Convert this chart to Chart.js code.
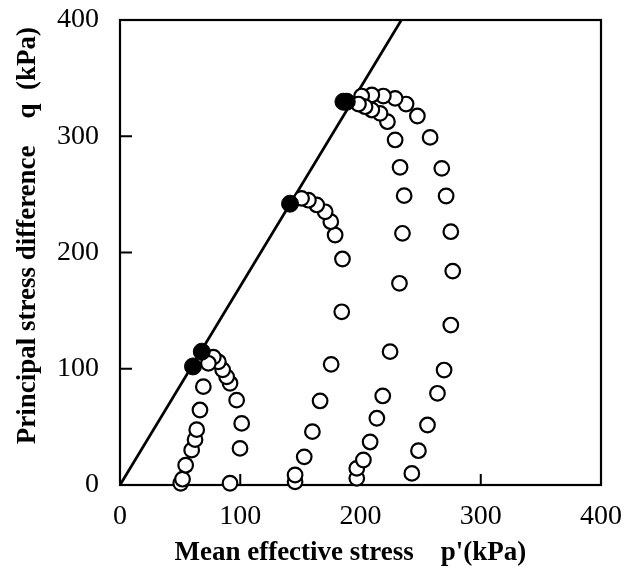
<!DOCTYPE html>
<html><head><meta charset="utf-8">
<script src="https://cdn.jsdelivr.net/npm/chart.js@4/dist/chart.umd.min.js"></script>
<style>html,body{margin:0;padding:0;background:#fff;}canvas{display:block;}</style>
</head><body>
<canvas id="c" width="636" height="575"></canvas>
<script>
// Tick values
const xTickValues = [0, 100, 200, 300, 400];
const yTickValues = [0, 100, 200, 300, 400];
const innerTickValues = [100, 200, 300];

// Critical state / failure line (p', q)
const lineP = [0, 234];
const lineQ = [0, 400];

// Stress path A1 (p'0 ≈ 50 kPa)
const pathA1P = [50.5, 52, 54.6, 59.6, 62.4, 63.8, 66.5, 69.3, 73.5];
const pathA1Q = [1.5, 5, 17, 30, 39, 47.6, 64.5, 84.6, 104.7];
// Stress path A2 (p'0 ≈ 90 kPa)
const pathA2P = [91.5, 99.8, 101.2, 97, 91.5, 88.7, 85.4, 81.8, 77.6];
const pathA2Q = [1.5, 31.5, 53, 73, 87.5, 93, 99, 106, 110];
// Stress path B (p'0 ≈ 145 kPa)
const pathBP = [145.6, 145.6, 153.2, 160, 166.4, 175.6, 184.4, 185, 178.9, 175.3, 170.6, 163.6, 156.7, 151];
const pathBQ = [2.8, 8.6, 24.2, 45.9, 72.3, 103.8, 149, 194.4, 215, 226.5, 235, 240.9, 245, 246.6];
// Stress path C (p'0 ≈ 195 kPa)
const pathCP = [196.9, 196.9, 202.4, 208, 213.6, 218.5, 224.6, 232.4, 234.9, 236.3, 232.9, 228.8, 222.4, 216.3, 209.4, 203.8, 198.3];
const pathCQ = [5.7, 14.3, 21.5, 37, 57.4, 76.6, 114.7, 173.5, 216.5, 248.9, 273.3, 296.8, 312.5, 319.7, 322.6, 325.4, 327.7];
// Stress path D (p'0 ≈ 240 kPa)
const pathDP = [242.7, 248.2, 255.7, 264, 269.5, 275.1, 276.7, 275.1, 271.2, 267.6, 257.9, 247.3, 237.9, 228.8, 219, 209.4, 201];
const pathDQ = [10, 29.5, 51.6, 78.9, 98.9, 137.6, 184, 217.9, 248.6, 272.4, 299, 317.4, 327.7, 332.6, 334.6, 335.5, 334.6];
// Failure points (filled)
const failP = [60.7, 68, 141.4, 188.6, 185.8];
const failQ = [102, 114.7, 242, 329.7, 329.7];

const toXY = (ps, qs) => ps.map((p, i) => ({x: p, y: qs[i]}));

const openStyle = {
  pointRadius: 7.3, pointHoverRadius: 7.3, pointBorderWidth: 2.2,
  pointBackgroundColor: '#fff', pointBorderColor: '#000',
  showLine: false, clip: false
};

const frameTicks = {
  id: 'frameTicks',
  beforeDatasetsDraw(chart) {
    const {ctx, chartArea: a, scales: {x, y}} = chart;
    ctx.save();
    ctx.strokeStyle = '#000';
    ctx.lineWidth = 2.2;
    ctx.strokeRect(a.left, a.top, a.right - a.left, a.bottom - a.top);
    ctx.lineWidth = 2;
    ctx.beginPath();
    innerTickValues.forEach(v => {
      const px = x.getPixelForValue(v);
      ctx.moveTo(px, a.bottom); ctx.lineTo(px, a.bottom - 11);
      const py = y.getPixelForValue(v);
      ctx.moveTo(a.left, py); ctx.lineTo(a.left + 12, py);
    });
    ctx.stroke();
    ctx.restore();
  }
};

const serif = 'Liberation Serif';
new Chart(document.getElementById('c'), {
  type: 'scatter',
  data: {
    datasets: [
      {data: toXY(lineP, lineQ), showLine: true, borderColor: '#000', borderWidth: 2.7, pointRadius: 0, clip: false, order: 3},
      Object.assign({data: toXY(pathA1P, pathA1Q), order: 2}, openStyle),
      Object.assign({data: toXY(pathA2P, pathA2Q), order: 2}, openStyle),
      Object.assign({data: toXY(pathBP, pathBQ), order: 2}, openStyle),
      Object.assign({data: toXY(pathCP, pathCQ), order: 2}, openStyle),
      Object.assign({data: toXY(pathDP, pathDQ), order: 2}, openStyle),
      {data: toXY(failP, failQ), pointRadius: 8.5, pointBorderWidth: 1, pointBackgroundColor: '#000', pointBorderColor: '#000', showLine: false, clip: false, order: 1}
    ]
  },
  options: {
    responsive: false, animation: false, devicePixelRatio: 1,
    layout: {padding: {left: 0, right: 35, top: 20, bottom: 0}},
    plugins: {legend: {display: false}, tooltip: {enabled: false}},
    scales: {
      x: {
        type: 'linear', min: 0, max: 400,
        afterBuildTicks: s => { s.ticks = xTickValues.map(v => ({value: v})); },
        afterFit: s => { s.height = 90; s.paddingLeft = 0; s.paddingRight = 0; },
        grid: {display: false, drawTicks: false},
        border: {display: false},
        ticks: {color: '#000', padding: 15, font: {family: serif, size: 28}, callback: v => String(v)},
        title: {display: true, text: 'Mean effective stress\u00A0\u00A0\u00A0\u00A0p\'(kPa)\u00A0\u00A0\u00A0', color: '#000',
                font: {family: serif, size: 27, weight: 'bold'}, padding: {top: 0, bottom: 6}}
      },
      y: {
        type: 'linear', min: 0, max: 400,
        afterBuildTicks: s => { s.ticks = yTickValues.map(v => ({value: v})); },
        afterFit: s => { s.width = 120; s.paddingTop = 0; s.paddingBottom = 0; },
        grid: {display: false, drawTicks: false},
        border: {display: false},
        ticks: {color: '#000', padding: 21, font: {family: serif, size: 28}, callback: v => String(v)},
        title: {display: true, text: '\u00A0\u00A0\u00A0\u00A0\u00A0Principal stress difference\u00A0\u00A0\u00A0\u00A0q\u00A0\u00A0(kPa)', color: '#000',
                font: {family: serif, size: 27, weight: 'bold'}, padding: {top: 12, bottom: 12}}
      }
    }
  },
  plugins: [frameTicks]
});
</script>
</body></html>
